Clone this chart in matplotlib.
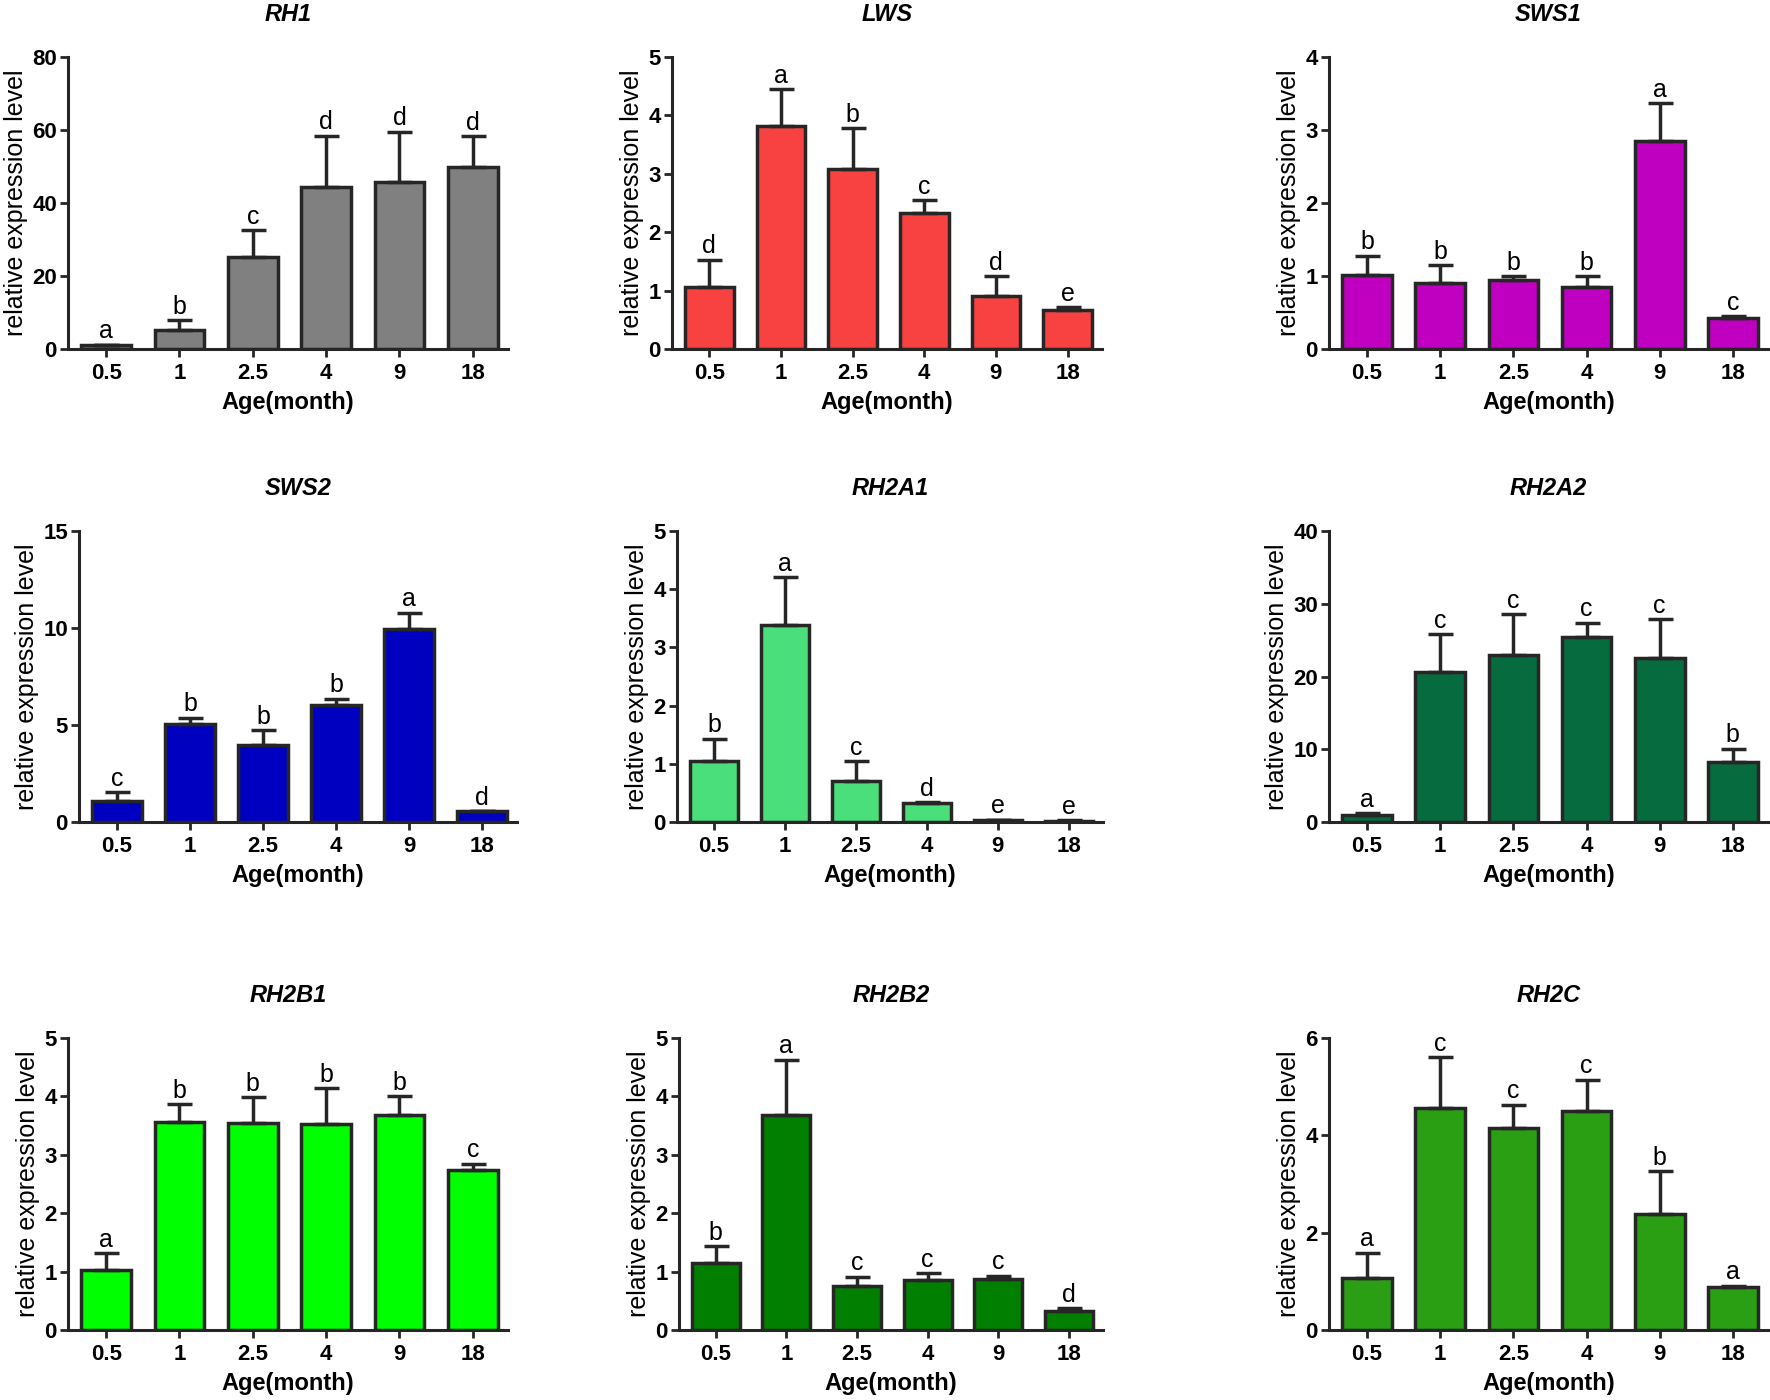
import matplotlib
matplotlib.use("Agg")
import matplotlib.pyplot as plt
import numpy as np

plt.rcParams['font.family'] = ['Liberation Sans', 'DejaVu Sans']

ages = ["0.5", "1", "2.5", "4", "9", "18"]

genes = ["RH1", "LWS", "SWS1", "SWS2", "RH2A1", "RH2A2", "RH2B1", "RH2B2", "RH2C"]

# mean values and top of error bars (mean + SD)
rh1_mean = [1.0, 5.3, 25.3, 44.4, 45.7, 49.8]
rh1_top = [1.2, 7.9, 32.5, 58.4, 59.5, 58.3]
lws_mean = [1.07, 3.82, 3.09, 2.33, 0.90, 0.66]
lws_top = [1.53, 4.45, 3.78, 2.55, 1.25, 0.72]
sws1_mean = [1.02, 0.91, 0.95, 0.85, 2.85, 0.42]
sws1_top = [1.28, 1.15, 1.00, 1.00, 3.37, 0.45]
sws2_mean = [1.07, 5.04, 3.99, 6.02, 9.96, 0.55]
sws2_top = [1.55, 5.38, 4.73, 6.35, 10.79, 0.57]
rh2a1_mean = [1.04, 3.39, 0.71, 0.32, 0.03, 0.02]
rh2a1_top = [1.43, 4.21, 1.05, 0.34, 0.04, 0.03]
rh2a2_mean = [1.0, 20.6, 23.0, 25.4, 22.6, 8.3]
rh2a2_top = [1.2, 25.8, 28.6, 27.4, 27.9, 10.1]
rh2b1_mean = [1.03, 3.57, 3.55, 3.53, 3.69, 2.74]
rh2b1_top = [1.32, 3.87, 3.99, 4.14, 4.00, 2.85]
rh2b2_mean = [1.15, 3.69, 0.75, 0.86, 0.87, 0.33]
rh2b2_top = [1.44, 4.63, 0.91, 0.97, 0.93, 0.37]
rh2c_mean = [1.07, 4.56, 4.15, 4.49, 2.39, 0.88]
rh2c_top = [1.59, 5.60, 4.63, 5.14, 3.26, 0.91]

rh1_sig = ["a", "b", "c", "d", "d", "d"]
lws_sig = ["d", "a", "b", "c", "d", "e"]
sws1_sig = ["b", "b", "b", "b", "a", "c"]
sws2_sig = ["c", "b", "b", "b", "a", "d"]
rh2a1_sig = ["b", "a", "c", "d", "e", "e"]
rh2a2_sig = ["a", "c", "c", "c", "c", "b"]
rh2b1_sig = ["a", "b", "b", "b", "b", "c"]
rh2b2_sig = ["b", "a", "c", "c", "c", "d"]
rh2c_sig = ["a", "c", "c", "c", "b", "a"]

means = [rh1_mean, lws_mean, sws1_mean, sws2_mean, rh2a1_mean, rh2a2_mean,
         rh2b1_mean, rh2b2_mean, rh2c_mean]
tops = [rh1_top, lws_top, sws1_top, sws2_top, rh2a1_top, rh2a2_top,
        rh2b1_top, rh2b2_top, rh2c_top]
sigs = [rh1_sig, lws_sig, sws1_sig, sws2_sig, rh2a1_sig, rh2a2_sig,
        rh2b1_sig, rh2b2_sig, rh2c_sig]

ymax = [80, 5, 4, 15, 5, 40, 5, 5, 6]
ystep = [20, 1, 1, 5, 1, 10, 1, 1, 2]
colors = ["#808080", "#F84242", "#C000C0", "#0000C0", "#4ADF7A", "#076B40",
          "#00FF00", "#007F00", "#2A9F14"]

# axes boxes in pixels: left, right, top, zero line
boxes = [(68, 508, 57, 349), (672, 1102, 57, 349), (1329, 1768, 57, 349),
         (79, 517, 531, 822), (677, 1103, 531, 822), (1329, 1768, 531, 822),
         (68, 508, 1038, 1330), (679, 1103, 1038, 1330), (1329, 1768, 1038, 1330)]

W, H = 1770, 1400
fig = plt.figure(figsize=(W / 100, H / 100), dpi=100)
edge = "#262626"
x = np.arange(len(ages))

for i, gene in enumerate(genes):
    l, r, t, z = boxes[i]
    ax = fig.add_axes([l / W, 1 - z / H, (r - l) / W, (z - t) / H])
    m = np.array(means[i])
    tp = np.array(tops[i])
    ax.bar(x, m, width=0.68, color=colors[i], edgecolor=edge, linewidth=2.5, zorder=2)
    ax.errorbar(x, m, yerr=[np.zeros_like(m), tp - m], fmt='none', ecolor=edge,
                elinewidth=2.5, capsize=9, capthick=2.5, zorder=3)
    for xi, yi, s in zip(x, tp, sigs[i]):
        ax.annotate(s, (xi, yi), xytext=(0, 1), textcoords='offset points',
                    ha='center', va='bottom', fontsize=18)
    ax.set_xlim(-0.52, 5.48)
    ax.set_ylim(0, ymax[i])
    ax.set_yticks(np.arange(0, ymax[i] + ystep[i] / 2, ystep[i]))
    ax.set_xticks(x)
    ax.set_xticklabels(ages)
    for lab in ax.get_xticklabels() + ax.get_yticklabels():
        lab.set_fontweight('bold')
    ax.tick_params(axis='both', labelsize=16, width=2, length=6, color=edge)
    ax.tick_params(axis='x', pad=4)
    ax.tick_params(axis='y', pad=2)
    for sp in ['top', 'right']:
        ax.spines[sp].set_visible(False)
    for sp in ['left', 'bottom']:
        ax.spines[sp].set_linewidth(2.2)
        ax.spines[sp].set_color(edge)
    ax.set_ylabel("relative expression level", fontsize=18, labelpad=3)
    ax.set_xlabel("Age(month)", fontsize=17, fontweight='bold', labelpad=5)
    ax.set_title(gene, fontsize=17, fontweight='bold', style='italic', pad=26)

fig.savefig("out.png", dpi=100)
